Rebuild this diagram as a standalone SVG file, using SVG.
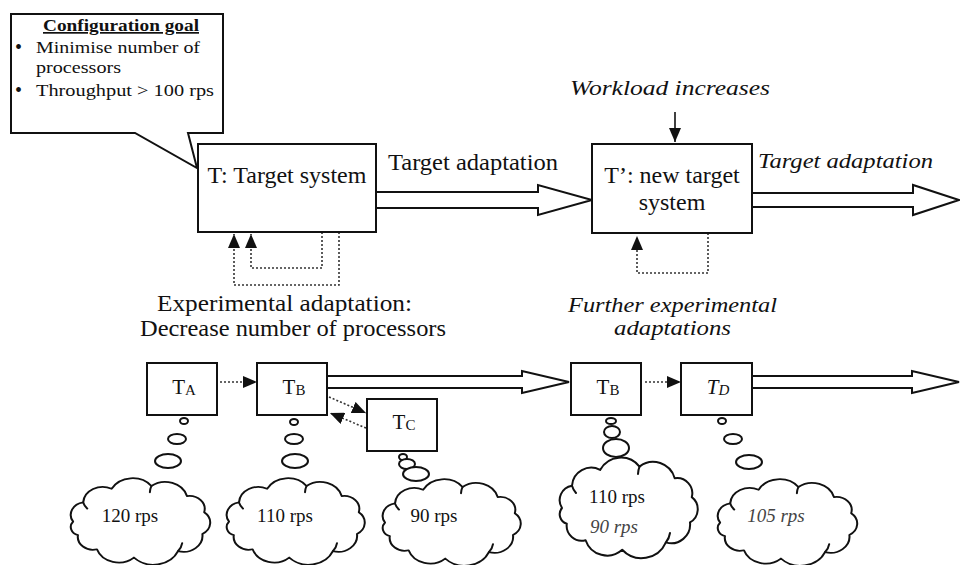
<svg xmlns="http://www.w3.org/2000/svg" xmlns:xlink="http://www.w3.org/1999/xlink" width="960" height="565" viewBox="0 0 960 565" font-family="'Liberation Serif', 'DejaVu Serif', 'Noto Serif', 'Times New Roman', serif">
  <style>
    .box { fill: #fff; stroke: #111; stroke-width: 2; }
    .big { fill: #fff; stroke: #111; stroke-width: 2; stroke-linejoin: miter; }
    .dot { fill: none; stroke: #333; stroke-width: 1.6; stroke-dasharray: 2 2; }
    .solid { fill: none; stroke: #111; stroke-width: 1.6; }
    .bub { fill: #fff; stroke: #111; stroke-width: 2; }
    .cloud { fill: #fff; stroke: #111; stroke-width: 2; vector-effect: non-scaling-stroke; stroke-linejoin: round; }
    .cloudin { fill: none; stroke: #111; stroke-width: 2; vector-effect: non-scaling-stroke; stroke-linecap: round; }
    text { font-family: 'Liberation Serif', 'DejaVu Serif', 'Noto Serif', 'Times New Roman', serif; fill: #111; }
    .lbl { font-size: 24px; }
    .it { font-style: italic; }
    .sm { font-size: 21px; }
    .rps { font-size: 19px; }
    .grey { fill: #444; }
  </style>
  <defs>
    <marker id="tri" markerUnits="userSpaceOnUse" markerWidth="14" markerHeight="12" refX="14" refY="6" orient="auto">
      <path d="M0,0 L14,6 L0,12 Z" fill="#111"/>
    </marker>
    <path id="cloudShape" d="M10,53 A14.6,14.6 0 0 1 20,30.7 A19.3,19.3 0 0 1 48.1,14.9 A23.7,23.7 0 0 1 87.5,11.6 A22.3,22.3 0 0 1 122.7,23.3 A15.2,15.2 0 0 1 139.8,42.1 A15.2,15.2 0 0 1 138,67.4 A18.8,18.8 0 0 1 113.9,87.4 A26.6,26.6 0 0 1 70.2,94.8 A22.7,22.7 0 0 1 33.6,85.2 A15,15 0 0 1 14.8,68.7 A9.8,9.8 0 0 1 10,53 Z"/>
    <path id="cloudHints" d="M113.9,87.4 A18.8,18.8 0 0 0 118,78 M20,30.7 A19.3,19.3 0 0 0 24,38 M87.5,11.6 A22.3,22.3 0 0 0 86,19"/>
  </defs>

  <!-- connectors -->
  <g id="connectors">
    <!-- target adaptation: T to T' -->
    <path class="big" d="M376,192 H538 V185 L592,200 L538,215 V208 H376"/>
    <!-- target adaptation beyond T' -->
    <path class="big" d="M752,193 H913 V185 L959,200 L913,215 V207 H752"/>
    <!-- lower row: TB to TB -->
    <path class="big" d="M327,376 H522 V371 L569,382 L522,393 V388 H327"/>
    <!-- lower row: TD onwards -->
    <path class="big" d="M752,376 H912 V371 L959,382 L912,393 V388 H752"/>
    <!-- experimental feedback loops on T -->
    <path class="dot" d="M339,232 V285 H234 V234" marker-end="url(#tri)"/>
    <path class="dot" d="M322,232 V268 H251 V234" marker-end="url(#tri)"/>
    <!-- experimental feedback loop on T' -->
    <path class="dot" d="M708,233 V273 H637 V236" marker-end="url(#tri)"/>
    <!-- workload increases -->
    <path class="solid" d="M675,112 V142" marker-end="url(#tri)"/>
    <!-- lower row dotted transitions -->
    <path class="dot" d="M220,382 H257" marker-end="url(#tri)"/>
    <path class="dot" d="M645,382 H681" marker-end="url(#tri)"/>
    <path class="dot" d="M329,397 L366,413" marker-end="url(#tri)"/>
    <path class="dot" d="M366,428 L330,413" marker-end="url(#tri)"/>
  </g>

  <!-- configuration goal callout -->
  <g id="goal">
    <path class="box" d="M11,14 H223 V133 H188 L197,168 L135,133 H11 Z"/>
    <text x="43" y="31" font-size="17" font-weight="bold" text-decoration="underline" textLength="156" lengthAdjust="spacingAndGlyphs">Configuration goal</text>
    <text x="15" y="54" font-size="20">•</text>
    <text x="36" y="53" font-size="17" textLength="164" lengthAdjust="spacingAndGlyphs">Minimise number of</text>
    <text x="36" y="73" font-size="17" textLength="85" lengthAdjust="spacingAndGlyphs">processors</text>
    <text x="15" y="97" font-size="20">•</text>
    <text x="36" y="96" font-size="17" textLength="178" lengthAdjust="spacingAndGlyphs">Throughput &gt; 100 rps</text>
  </g>

  <!-- target system -->
  <g id="target">
    <rect class="box" x="198" y="144" width="178" height="88"/>
    <text class="lbl" x="287" y="183" text-anchor="middle">T: Target system</text>
  </g>

  <!-- new target system -->
  <g id="newTarget">
    <rect class="box" x="592" y="144" width="160" height="89"/>
    <text class="lbl" x="672" y="183" text-anchor="middle">T’: new target</text>
    <text class="lbl" x="672" y="210" text-anchor="middle">system</text>
  </g>

  <!-- labels -->
  <g id="labels">
    <text class="lbl" x="388" y="170" textLength="170" lengthAdjust="spacingAndGlyphs">Target adaptation</text>
    <text class="it" x="570" y="95" font-size="20" textLength="200" lengthAdjust="spacingAndGlyphs">Workload increases</text>
    <text class="it" x="758" y="168" font-size="20" textLength="175" lengthAdjust="spacingAndGlyphs">Target adaptation</text>
    <text class="lbl" x="157" y="311" textLength="255" lengthAdjust="spacingAndGlyphs">Experimental adaptation:</text>
    <text class="lbl" x="140" y="336" textLength="306" lengthAdjust="spacingAndGlyphs">Decrease number of processors</text>
    <text class="it" x="568" y="312" font-size="22" textLength="209" lengthAdjust="spacingAndGlyphs">Further experimental</text>
    <text class="it" x="614" y="335" font-size="22" textLength="117" lengthAdjust="spacingAndGlyphs">adaptations</text>
  </g>

  <!-- candidate configurations -->
  <g id="TA">
    <rect class="box" x="147" y="363" width="70" height="52"/>
    <text class="sm" x="184" y="394" text-anchor="middle">T<tspan font-size="15" dy="1">A</tspan></text>
  </g>
  <g id="TB">
    <rect class="box" x="257" y="363" width="70" height="52"/>
    <text class="sm" x="294" y="394" text-anchor="middle">T<tspan font-size="15" dy="1">B</tspan></text>
  </g>
  <g id="TC">
    <rect class="box" x="367" y="399" width="70" height="52"/>
    <text class="sm" x="404" y="429" text-anchor="middle">T<tspan font-size="15" dy="1">C</tspan></text>
  </g>
  <g id="TB2">
    <rect class="box" x="571" y="363" width="70" height="52"/>
    <text class="sm" x="608" y="394" text-anchor="middle">T<tspan font-size="15" dy="1">B</tspan></text>
  </g>
  <g id="TD">
    <rect class="box" x="681" y="363" width="71" height="52"/>
    <text class="sm it" x="718" y="394" text-anchor="middle">T<tspan font-size="15" dy="1">D</tspan></text>
  </g>

  <!-- measured throughput clouds -->
  <g id="cloudA">
    <ellipse class="bub" cx="184" cy="421" rx="4" ry="3"/>
    <ellipse class="bub" cx="177" cy="439" rx="9" ry="5"/>
    <ellipse class="bub" cx="168" cy="461" rx="13" ry="7"/>
    <use href="#cloudShape" class="cloud" transform="translate(63,476) scale(1.01,0.86)"/>
    <use href="#cloudHints" class="cloudin" transform="translate(63,476) scale(1.01,0.86)"/>
    <text class="rps" x="130" y="522" text-anchor="middle">120 rps</text>
  </g>
  <g id="cloudB">
    <ellipse class="bub" cx="294" cy="422" rx="4" ry="3"/>
    <ellipse class="bub" cx="294" cy="439" rx="9" ry="5"/>
    <ellipse class="bub" cx="295" cy="461" rx="13" ry="7"/>
    <use href="#cloudShape" class="cloud" transform="translate(219,476) scale(1.0,0.86)"/>
    <use href="#cloudHints" class="cloudin" transform="translate(219,476) scale(1.0,0.86)"/>
    <text class="rps" x="285" y="522" text-anchor="middle">110 rps</text>
  </g>
  <g id="cloudC">
    <use href="#cloudShape" class="cloud" transform="translate(375,477) scale(1.0,0.86)"/>
    <use href="#cloudHints" class="cloudin" transform="translate(375,477) scale(1.0,0.86)"/>
    <ellipse class="bub" cx="403" cy="457" rx="4" ry="3"/>
    <ellipse class="bub" cx="407" cy="464" rx="8" ry="5"/>
    <ellipse class="bub" cx="416" cy="474" rx="13" ry="7"/>
    <text class="rps" x="434" y="522" text-anchor="middle">90 rps</text>
  </g>
  <g id="cloudB2">
    <ellipse class="bub" cx="611" cy="421" rx="5" ry="3"/>
    <ellipse class="bub" cx="612" cy="432" rx="8" ry="6"/>
    <ellipse class="bub" cx="616" cy="448" rx="13" ry="9"/>
    <use href="#cloudShape" class="cloud" transform="translate(552,455) scale(1.0,1.0)"/>
    <use href="#cloudHints" class="cloudin" transform="translate(552,455) scale(1.0,1.0)"/>
    <text class="rps" x="617" y="503" text-anchor="middle">110 rps</text>
    <text class="rps it grey" x="614" y="533" text-anchor="middle">90 rps</text>
  </g>
  <g id="cloudD">
    <ellipse class="bub" cx="722" cy="421" rx="4" ry="3"/>
    <ellipse class="bub" cx="733" cy="439" rx="9" ry="5"/>
    <ellipse class="bub" cx="749" cy="462" rx="13" ry="7"/>
    <use href="#cloudShape" class="cloud" transform="translate(710,477) scale(1.01,0.86)"/>
    <use href="#cloudHints" class="cloudin" transform="translate(710,477) scale(1.01,0.86)"/>
    <text class="rps it grey" x="776" y="522" text-anchor="middle">105 rps</text>
  </g>
</svg>
